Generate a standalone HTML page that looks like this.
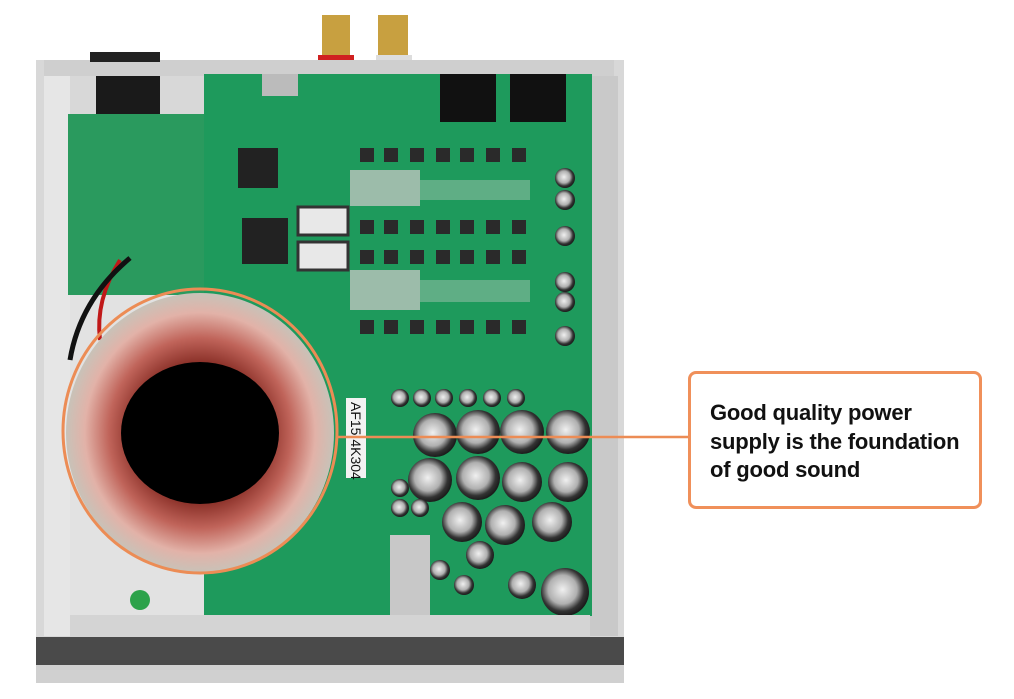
<!DOCTYPE html>
<html><head><meta charset="utf-8"><style>
body{margin:0;width:1014px;height:699px;background:#fff;overflow:hidden;position:relative;font-family:"Liberation Sans",sans-serif}
.a{position:absolute}
.callout{position:absolute;left:688px;top:371px;width:294px;height:138px;border:3px solid #f0905a;border-radius:8px;background:#fff;box-sizing:border-box}
.callout p{margin:0;position:absolute;left:19px;top:25px;font-weight:bold;font-size:22px;line-height:28.5px;color:#111;letter-spacing:-0.2px}
</style></head><body>
<svg class="a" style="left:0;top:0" width="1014" height="699">
<defs>
<radialGradient id="tor" cx="50%" cy="50%" r="50%">
<stop offset="50%" stop-color="#8a3028"/><stop offset="68%" stop-color="#c0645a"/><stop offset="86%" stop-color="#e2b2a8"/><stop offset="100%" stop-color="#c8c2b8"/></radialGradient>
<radialGradient id="cap" cx="45%" cy="45%" r="60%"><stop offset="0" stop-color="#f0f0f0"/><stop offset="50%" stop-color="#b0b0b0"/><stop offset="75%" stop-color="#333"/><stop offset="100%" stop-color="#111"/></radialGradient>
</defs>
<rect x="322" y="15" width="28" height="42" fill="#c8a040"/><rect x="378" y="15" width="30" height="42" fill="#c8a040"/>
<rect x="318" y="55" width="36" height="14" fill="#d02020"/><rect x="376" y="55" width="36" height="14" fill="#ddd"/>
<rect x="36" y="60" width="588" height="622" fill="#d8d8d8"/>
<rect x="44" y="60" width="570" height="16" fill="#cfcfcf"/>
<rect x="90" y="52" width="70" height="10" fill="#222"/>
<rect x="44" y="76" width="26" height="560" fill="#e6e6e6"/>
<rect x="590" y="76" width="28" height="560" fill="#c9c9c9"/>
<rect x="70" y="295" width="134" height="320" fill="#e2e2e2"/>
<rect x="96" y="76" width="64" height="38" fill="#1a1a1a"/>
<rect x="68" y="114" width="136" height="181" fill="#2a9a5e"/>
<rect x="204" y="74" width="388" height="542" fill="#1e9a5c"/>
<rect x="440" y="74" width="56" height="48" fill="#111"/><rect x="510" y="74" width="56" height="48" fill="#111"/>
<rect x="262" y="74" width="36" height="22" fill="#bbb"/>
<rect x="238" y="148" width="40" height="40" fill="#222"/>
<rect x="242" y="218" width="46" height="46" fill="#222"/>
<rect x="298" y="207" width="50" height="28" fill="#e8e8e8" stroke="#333" stroke-width="3"/>
<rect x="298" y="242" width="50" height="28" fill="#e8e8e8" stroke="#333" stroke-width="3"/>
<g fill="#2a2a2a">
<rect x="360" y="148" width="14" height="14"/><rect x="384" y="148" width="14" height="14"/><rect x="410" y="148" width="14" height="14"/><rect x="436" y="148" width="14" height="14"/><rect x="460" y="148" width="14" height="14"/><rect x="486" y="148" width="14" height="14"/><rect x="512" y="148" width="14" height="14"/>
<rect x="360" y="220" width="14" height="14"/><rect x="384" y="220" width="14" height="14"/><rect x="410" y="220" width="14" height="14"/><rect x="436" y="220" width="14" height="14"/><rect x="460" y="220" width="14" height="14"/><rect x="486" y="220" width="14" height="14"/><rect x="512" y="220" width="14" height="14"/>
<rect x="360" y="250" width="14" height="14"/><rect x="384" y="250" width="14" height="14"/><rect x="410" y="250" width="14" height="14"/><rect x="436" y="250" width="14" height="14"/><rect x="460" y="250" width="14" height="14"/><rect x="486" y="250" width="14" height="14"/><rect x="512" y="250" width="14" height="14"/>
<rect x="360" y="320" width="14" height="14"/><rect x="384" y="320" width="14" height="14"/><rect x="410" y="320" width="14" height="14"/><rect x="436" y="320" width="14" height="14"/><rect x="460" y="320" width="14" height="14"/><rect x="486" y="320" width="14" height="14"/><rect x="512" y="320" width="14" height="14"/>
</g>
<rect x="350" y="170" width="70" height="36" fill="#9cbcaa"/><rect x="350" y="270" width="70" height="40" fill="#9cbcaa"/>
<rect x="420" y="180" width="110" height="20" fill="#5fae85"/><rect x="420" y="280" width="110" height="22" fill="#5fae85"/>
<g fill="url(#cap)">
<circle cx="565" cy="178" r="10"/><circle cx="565" cy="200" r="10"/><circle cx="565" cy="236" r="10"/><circle cx="565" cy="282" r="10"/><circle cx="565" cy="302" r="10"/><circle cx="565" cy="336" r="10"/>
<circle cx="400" cy="398" r="9"/><circle cx="422" cy="398" r="9"/><circle cx="444" cy="398" r="9"/><circle cx="468" cy="398" r="9"/><circle cx="492" cy="398" r="9"/><circle cx="516" cy="398" r="9"/>
<circle cx="435" cy="435" r="22"/><circle cx="478" cy="432" r="22"/><circle cx="522" cy="432" r="22"/><circle cx="568" cy="432" r="22"/>
<circle cx="430" cy="480" r="22"/><circle cx="478" cy="478" r="22"/><circle cx="522" cy="482" r="20"/><circle cx="568" cy="482" r="20"/>
<circle cx="462" cy="522" r="20"/><circle cx="505" cy="525" r="20"/><circle cx="552" cy="522" r="20"/>
<circle cx="565" cy="592" r="24"/><circle cx="400" cy="488" r="9"/><circle cx="400" cy="508" r="9"/><circle cx="420" cy="508" r="9"/>
<circle cx="440" cy="570" r="10"/><circle cx="464" cy="585" r="10"/><circle cx="480" cy="555" r="14"/><circle cx="522" cy="585" r="14"/>
</g>
<rect x="390" y="535" width="40" height="80" fill="#c8c8c8"/>
<rect x="346" y="398" width="20" height="80" fill="#f2f2f2"/>
<text x="0" y="0" transform="translate(351,402) rotate(90)" font-family="Liberation Sans" font-size="14" fill="#111">AF15 4K304</text>
<rect x="70" y="615" width="520" height="22" fill="#d4d4d4"/>
<rect x="36" y="637" width="588" height="28" fill="#4a4a4a"/>
<rect x="36" y="665" width="588" height="18" fill="#d0d0d0"/>
<path d="M120 260 Q95 300 100 340" stroke="#c01818" stroke-width="4" fill="none"/>
<path d="M130 258 Q80 300 70 360" stroke="#111" stroke-width="5" fill="none"/>
<ellipse cx="200" cy="433" rx="134" ry="140" fill="url(#tor)"/>
<ellipse cx="200" cy="433" rx="79" ry="71" fill="#000"/>
<ellipse cx="200" cy="431" rx="137" ry="142" fill="none" stroke="#ec8c55" stroke-width="3"/>
<line x1="337" y1="437" x2="688" y2="437" stroke="#ec8c55" stroke-width="2.5"/>
<circle cx="140" cy="600" r="10" fill="#2ca24a"/>
</svg>
<div class="callout"><p>Good quality power<br>supply is the foundation<br>of good sound</p></div>
</body></html>
